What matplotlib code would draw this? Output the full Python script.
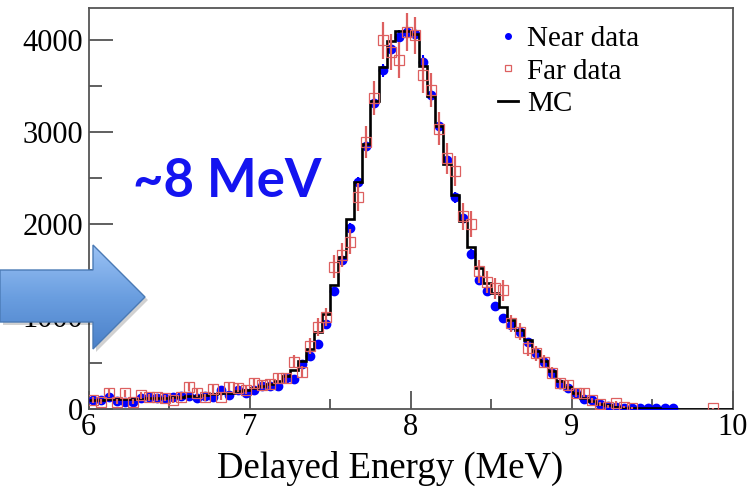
import numpy as np
import matplotlib
matplotlib.use("Agg")
import matplotlib.pyplot as plt
from matplotlib.lines import Line2D
from matplotlib.patches import Polygon
from matplotlib.ticker import MultipleLocator
from matplotlib.colors import LinearSegmentedColormap

# ---------------- data ----------------
bin_edges = np.round(np.arange(6.0, 10.0001, 0.05), 3)

near_data = [
    94, 94, 130, 87, 76, 76, 112, 123, 112, 112, 130, 137, 137, 112, 137, 130, 202, 148, 202, 173,
    200, 245, 245, 250, 330, 320, 485, 570, 700, 920,
    1275, 1610, 1955, 2455, 2850, 3310, 3670, 3895, 4025, 4080,
    4060, 3760, 3400, 3060, 2700, 2290, 2065, 1680, 1395, 1280,
    1115, 980, 907, 830, 726, 605, 508, 388, 268, 224,
    170, 105, 90, 51, 25, 22, 8, 8, 8, 5,
    5, 5, 5, np.nan, np.nan, np.nan, np.nan, np.nan, np.nan, np.nan,
]

far_data = [
    94, 76, 173, 76, 167, 76, 148, 123, 123, 113, 94, 130, 238, 173, 123, 210, 130, 235, 224, 203,
    278, 260, 268, 333, 330, 510, 395, 680, 885, 997,
    1540, 1665, 1810, 2300, 2890, 3373, 3995, 3870, 3785, 4085,
    4050, 3615, 3453, 3038, 2713, 2575, 2085, 2000, 1490, 1376,
    1304, 1285, 925, 834, 655, 600, 510, 390, 282, 257,
    170, 173, 90, 51, 22, 58, 20, 10, np.nan, np.nan,
    np.nan, np.nan, np.nan, np.nan, np.nan, np.nan, np.nan, 5, np.nan, np.nan,
]

mc_sim = [
    95, 95, 105, 100, 100, 100, 110, 115, 120, 120, 125, 130, 135, 140, 145, 155, 165, 175, 190, 205,
    225, 245, 265, 300, 350, 420, 520, 650, 830, 1025,
    1340, 1650, 2060, 2460, 2870, 3340, 3705, 3990, 4090, 4100,
    4060, 3720, 3390, 3060, 2650, 2320, 2030, 1755, 1525, 1360,
    1250, 1100, 960, 850, 740, 625, 515, 405, 305, 235,
    175, 120, 85, 55, 35, 20, 12, 8, 5, 4,
    3, 2, 2, 1, 0, 0, 0, 0, 0, 0,
]

x_ticks = [6, 7, 8, 9, 10]
y_ticks = [0, 1000, 2000, 3000, 4000]
legend_labels = ["Near data", "Far data", "MC"]
x_label = "Delayed Energy (MeV)"
annotation = "~8 MeV"

# ---------------- plot ----------------
near = np.array(near_data, dtype=float)
far = np.array(far_data, dtype=float)
mc = np.array(mc_sim, dtype=float)
centers = 0.5 * (bin_edges[:-1] + bin_edges[1:])

W, H = 752, 499
fig = plt.figure(figsize=(W / 100, H / 100), dpi=100)
ax = fig.add_axes([88.5 / W, 1 - 408.7 / H, (733 - 88.5) / W, (408.7 - 7.5) / H])

serif = ["Liberation Serif", "DejaVu Serif"]
blue = "#0000ff"
red = "#dd6060"

ax.errorbar(centers, near, yerr=np.sqrt(np.nan_to_num(near)) * 1.2, fmt="o", color=blue,
            ms=6, elinewidth=1.5, capsize=0, zorder=3)
ax.stairs(mc, bin_edges, color="black", lw=1.9, baseline=None, zorder=4)
ax.errorbar(centers, far, yerr=np.sqrt(np.nan_to_num(far) * 10), fmt="s", color=red,
            mfc="none", mec=red, mew=0.9, ms=6.8, elinewidth=1.6, capsize=0, zorder=5)

ax.set_xlim(6, 10)
ax.set_ylim(0, 4350)
ax.set_xticks(x_ticks)
ax.set_yticks(y_ticks)
ax.xaxis.set_minor_locator(MultipleLocator(0.5))
ax.yaxis.set_minor_locator(MultipleLocator(500))
ax.tick_params(axis="both", which="both", direction="in", top=False, right=False,
               colors="#444444", labelcolor="black", width=1.2)
ax.tick_params(axis="x", which="major", length=13, pad=3)
ax.tick_params(axis="x", which="minor", length=7)
ax.tick_params(axis="y", which="major", length=17, pad=4)
ax.tick_params(axis="y", which="minor", length=9)
for lab in ax.get_xticklabels() + ax.get_yticklabels():
    lab.set_family(serif)
    lab.set_fontsize(22)
for s in ax.spines.values():
    s.set_color("#555555")
    s.set_linewidth(1.3)

ax.set_xlabel(x_label, family=serif, fontsize=26.5, labelpad=10)
ax.xaxis.set_label_coords((390 - 88.5) / (733 - 88.5), -0.105)
ax.xaxis.label.set_va("top")

handles = [
    Line2D([], [], marker="o", color=blue, ls="none", ms=4),
    Line2D([], [], marker="s", mfc="none", mec=red, ls="none", ms=5, mew=0.9),
    Line2D([], [], color="black", lw=2),
]
ax.legend(handles, legend_labels, loc="upper left", bbox_to_anchor=(0.603, 1.005),
          frameon=False, prop={"family": serif, "size": 21}, handlelength=0.7,
          handletextpad=0.3, labelspacing=0.2, borderaxespad=0.3)

# ---------------- overlay: arrow + annotation ----------------
ov = fig.add_axes([0, 0, 1, 1], zorder=10)
ov.axis("off")
pts = [(0, 270), (93, 270), (93, 245), (145, 297), (93, 349), (93, 322), (0, 322)]
shadow = Polygon([(x + 3, y + 3) for x, y in pts], closed=True, fc="#000000", ec="none",
                 alpha=0.18, zorder=1)
ov.add_patch(shadow)
grad = np.linspace(0, 1, 256).reshape(-1, 1)
cmap = LinearSegmentedColormap.from_list("g", ["#9cc3f5", "#6a9ee0", "#4a80c8"])
im = ov.imshow(grad, extent=(0, 150, 350, 244), cmap=cmap, aspect="auto", zorder=2)
poly = Polygon(pts, closed=True, fc="none", ec="#4a7ab5", lw=1.0, zorder=3)
ov.add_patch(poly)
im.set_clip_path(poly)
ov.set_xlim(0, W)
ov.set_ylim(H, 0)

ov.text(133, 197, annotation, family=["Lato", "DejaVu Sans"], fontweight="bold",
        fontsize=38, color="#1414f0", va="baseline", ha="left", zorder=4)

fig.savefig("out.png", dpi=100)
